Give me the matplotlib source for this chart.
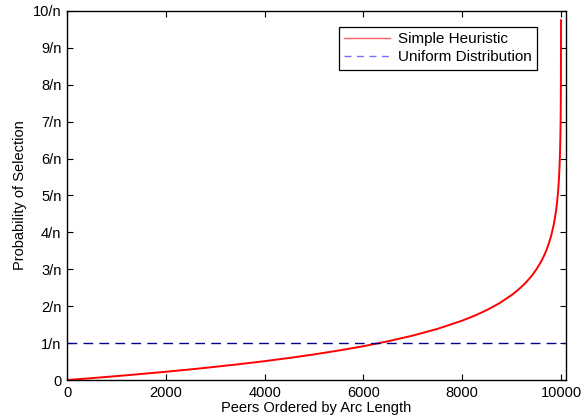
import numpy as np
import matplotlib.pyplot as plt
from matplotlib.lines import Line2D

peer_rank = [0, 500, 1000, 1500, 2000, 2500, 3000, 3500, 4000, 4500, 5000,
             5500, 6000, 6500, 7000, 7500, 8000, 8250, 8500, 8750, 9000,
             9100, 9200, 9300, 9400, 9500, 9600, 9650, 9700, 9750, 9800,
             9850, 9880, 9900, 9920, 9940, 9950, 9960, 9970, 9980, 9985,
             9990, 9993, 9995, 9997, 9998, 9999, 10000]
heuristic_prob = [0.0, 0.05, 0.105, 0.163, 0.223, 0.288, 0.357, 0.431, 0.511,
                  0.598, 0.693, 0.799, 0.916, 1.05, 1.204, 1.386, 1.609,
                  1.743, 1.897, 2.079, 2.303, 2.408, 2.526, 2.659, 2.813,
                  2.996, 3.219, 3.352, 3.507, 3.689, 3.912, 4.2, 4.423,
                  4.605, 4.828, 5.116, 5.298, 5.521, 5.809, 6.215, 6.502,
                  6.908, 7.26, 7.6, 8.1, 8.5, 9.1, 9.75]
uniform_x = [0, 10100]
uniform_prob = [1, 1]

ytick_vals = list(range(11))
ytick_labels = ['0'] + ['%d/n' % k for k in range(1, 11)]
xtick_vals = [0, 2000, 4000, 6000, 8000, 10000]

plt.rcParams['font.family'] = ['Liberation Sans', 'DejaVu Sans']

fig = plt.figure(figsize=(5.83, 4.19), dpi=100)
ax = fig.add_axes([67 / 583, 39 / 419, 499 / 583, 369 / 419])

ax.plot(peer_rank, heuristic_prob, color='red', lw=1.4)
ax.plot(uniform_x, uniform_prob, color='#00008b', lw=1.0, ls=(0, (7, 4.5)))

ax.set_xlim(0, 10100)
ax.set_ylim(0, 10)
ax.set_xticks(xtick_vals)
ax.set_yticks(ytick_vals)
ax.set_yticklabels(ytick_labels)
ax.tick_params(direction='in', top=True, right=True, labelsize=10.5,
               length=4, width=0.8, pad=4)
for s in ax.spines.values():
    s.set_linewidth(1.0)

ax.set_xlabel('Peers Ordered by Arc Length', fontsize=10.5, labelpad=1)
ax.set_ylabel('Probability of Selection', fontsize=10.5, labelpad=4)

handles = [Line2D([], [], color='#ff6060', lw=1.0),
           Line2D([], [], color='#7070ff', lw=1.0, ls=(0, (5, 4)))]
leg = ax.legend(handles, ['Simple Heuristic', 'Uniform Distribution'],
                loc='upper right', bbox_to_anchor=(470 / 499, 1 - 16 / 369),
                fontsize=11, frameon=True, fancybox=False, framealpha=1,
                edgecolor='black', handlelength=3.0, handletextpad=0.5,
                borderpad=0.35, labelspacing=0.25, borderaxespad=0)
leg.get_frame().set_linewidth(0.9)

fig.savefig('out.png', dpi=100)
